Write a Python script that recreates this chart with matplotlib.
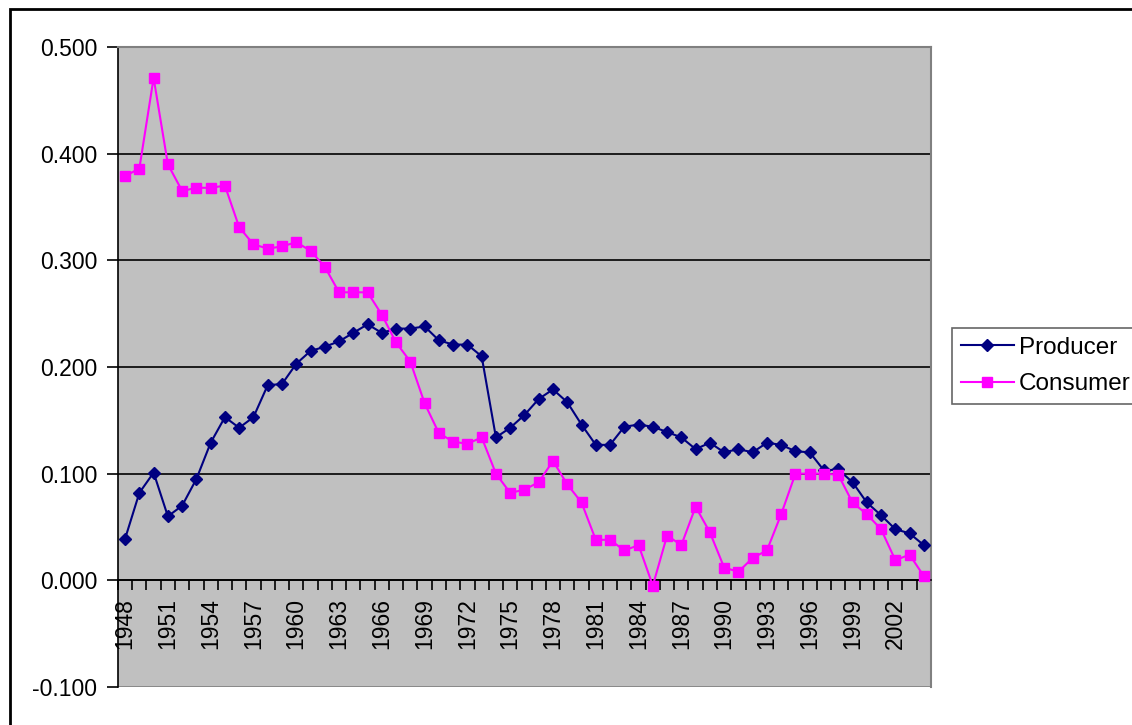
import numpy as np
from matplotlib import pyplot as plt
from matplotlib.patches import Rectangle

plt.rcParams['font.family'] = ['Liberation Sans', 'DejaVu Sans']

years = np.arange(1948, 2005)

producer = [0.039, 0.082, 0.101, 0.060, 0.070, 0.095, 0.129, 0.153, 0.143, 0.153,
            0.183, 0.184, 0.203, 0.215, 0.219, 0.224, 0.232, 0.240, 0.232, 0.236,
            0.236, 0.238, 0.225, 0.221, 0.221, 0.210, 0.134, 0.143, 0.155, 0.170,
            0.179, 0.167, 0.146, 0.127, 0.127, 0.144, 0.146, 0.144, 0.139, 0.134,
            0.123, 0.129, 0.120, 0.123, 0.120, 0.129, 0.127, 0.121, 0.120, 0.103,
            0.104, 0.092, 0.073, 0.061, 0.048, 0.044, 0.033]

consumer = [0.379, 0.386, 0.471, 0.390, 0.365, 0.368, 0.368, 0.370, 0.331, 0.315,
            0.311, 0.313, 0.317, 0.309, 0.294, 0.270, 0.270, 0.270, 0.249, 0.223,
            0.205, 0.166, 0.138, 0.130, 0.128, 0.134, 0.100, 0.082, 0.085, 0.092,
            0.112, 0.090, 0.073, 0.038, 0.038, 0.028, 0.033, -0.005, 0.042, 0.033,
            0.069, 0.045, 0.012, 0.008, 0.021, 0.028, 0.062, 0.100, 0.100, 0.100,
            0.099, 0.073, 0.062, 0.048, 0.019, 0.024, 0.004]

fig = plt.figure(figsize=(11.32, 7.25), dpi=100)
ax = fig.add_axes([0.1042, 0.0524, 0.7182, 0.8828])
ax.set_facecolor('#C0C0C0')

# outer chart frame
fig.patches.append(Rectangle((10 / 1132, -0.05), 1.2, 1 - 9 / 725 + 0.05,
                             transform=fig.transFigure, fill=False,
                             edgecolor='black', linewidth=2, zorder=0))

# x axis crosses at zero (do this before ticks, it resets them)
ax.spines['bottom'].set_position(('data', 0))

x = np.arange(len(years))
ax.plot(x, producer, color='#000080', marker='D', markersize=6.5, linewidth=1.5,
        label='Producer', zorder=3)
ax.plot(x, consumer, color='#FF00FF', marker='s', markersize=7.5, linewidth=1.5,
        label='Consumer', zorder=3)

ax.set_xlim(-0.5, len(years) - 0.5)
ax.set_ylim(-0.1, 0.5)

yt = np.arange(-0.1, 0.51, 0.1)
ax.set_yticks(yt)
ax.set_yticklabels([f"{v:.3f}" for v in yt], fontsize=16.5)
for v in yt[1:-1]:
    ax.axhline(v, color='black', linewidth=1.2, zorder=1)
ax.axhline(-0.1, color='#808080', linewidth=1.2, zorder=1)

lab_pos = x[::3]
ax.set_xticks(lab_pos)
ax.set_xticklabels([str(y) for y in years[::3]], rotation=90, fontsize=16.5,
                   va='top')
ax.set_xticks(np.arange(-0.5, len(years)), minor=True)
ax.tick_params(axis='x', which='major', length=0, pad=13)
ax.tick_params(axis='x', which='minor', length=7, width=1.2, direction='out')
ax.tick_params(axis='y', length=8, width=1.2, pad=7)

ax.spines['bottom'].set_linewidth(1.2)
ax.spines['left'].set_linewidth(1.2)
ax.spines['top'].set_color('#808080')
ax.spines['right'].set_color('#808080')
ax.spines['top'].set_linewidth(1.5)
ax.spines['right'].set_linewidth(1.5)

leg = fig.legend(loc='upper left', bbox_to_anchor=(952 / 1132, 1 - 328 / 725),
                 fontsize=17.5, frameon=True, fancybox=False, handlelength=2.2,
                 borderpad=0.35, labelspacing=0.6, handletextpad=0.2,
                 borderaxespad=0)
leg.get_frame().set_edgecolor('#404040')
leg.get_frame().set_linewidth(1.2)

fig.savefig("out.png", dpi=100)
